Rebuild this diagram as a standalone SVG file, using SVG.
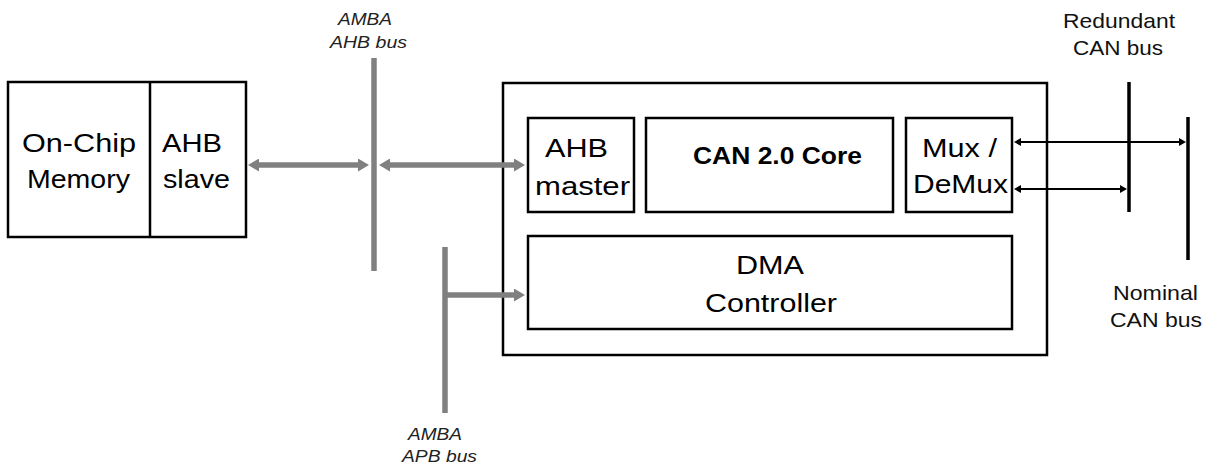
<svg xmlns="http://www.w3.org/2000/svg" width="1210" height="466" viewBox="0 0 1210 466">
<style>
  .box { fill: #ffffff; stroke: #000000; stroke-width: 2.5; }
  .t { font-family: "Liberation Sans", Arial, sans-serif; fill: #000000; }
  .big { font-size: 26px; }
  .bold { font-size: 24px; font-weight: bold; }
  .it { font-size: 17px; font-style: italic; fill: #222222; }
  .lbl { font-size: 21px; fill: #111111; }
  .gbus { stroke: #808080; stroke-width: 5.5; fill: none; }
  .garrow { stroke: #808080; stroke-width: 5.5; fill: none; marker-start: url(#ga); marker-end: url(#ga); }
  .garrow1 { stroke: #808080; stroke-width: 5.5; fill: none; marker-end: url(#ga); }
  .kbus { stroke: #000000; stroke-width: 3.5; fill: none; }
  .karrow { stroke: #000000; stroke-width: 2; fill: none; marker-start: url(#ka); marker-end: url(#ka); }
</style>
<defs>
  <marker id="ga" markerUnits="userSpaceOnUse" markerWidth="11" markerHeight="13" refX="2" refY="6.5" orient="auto-start-reverse">
    <path d="M0,0 L11,6.5 L0,13 Z" fill="#808080"/>
  </marker>
  <marker id="ka" markerUnits="userSpaceOnUse" markerWidth="7" markerHeight="8" refX="1" refY="4" orient="auto-start-reverse">
    <path d="M0,0 L7,4 L0,8 Z" fill="#000000"/>
  </marker>
</defs>
<rect width="1210" height="466" fill="#ffffff"/>

<g id="memory">
  <rect class="box" x="8" y="82" width="238" height="155"/>
  <line x1="150" y1="82" x2="150" y2="237" stroke="#000" stroke-width="2.5"/>
  <text class="t big" x="22" y="152" textLength="114" lengthAdjust="spacingAndGlyphs">On-Chip</text>
  <text class="t big" x="27" y="188" textLength="103" lengthAdjust="spacingAndGlyphs">Memory</text>
  <text class="t big" x="162" y="152" textLength="60" lengthAdjust="spacingAndGlyphs">AHB</text>
  <text class="t big" x="163" y="188" textLength="67" lengthAdjust="spacingAndGlyphs">slave</text>
</g>

<g id="can-controller">
  <rect class="box" x="503" y="83" width="544" height="272"/>
</g>
<g id="ahb-master">
  <rect class="box" x="528" y="118" width="106" height="94"/>
  <text class="t big" x="545" y="157" textLength="63" lengthAdjust="spacingAndGlyphs">AHB</text>
  <text class="t big" x="535" y="195" textLength="95" lengthAdjust="spacingAndGlyphs">master</text>
</g>
<g id="can-core">
  <rect class="box" x="646" y="118" width="247" height="94"/>
  <text class="t bold" x="693" y="164" textLength="169" lengthAdjust="spacingAndGlyphs">CAN 2.0 Core</text>
</g>
<g id="mux">
  <rect class="box" x="906" y="118" width="106" height="94"/>
  <text class="t big" x="922" y="157" textLength="75" lengthAdjust="spacingAndGlyphs">Mux /</text>
  <text class="t big" x="913" y="193" textLength="95" lengthAdjust="spacingAndGlyphs">DeMux</text>
</g>
<g id="dma">
  <rect class="box" x="528" y="236" width="484" height="93"/>
  <text class="t big" x="736" y="274" textLength="68" lengthAdjust="spacingAndGlyphs">DMA</text>
  <text class="t big" x="705" y="312" textLength="132" lengthAdjust="spacingAndGlyphs">Controller</text>
</g>

<g id="ahb-bus">
  <line class="gbus" x1="374" y1="58" x2="374" y2="271"/>
  <text class="t it" x="338" y="25" textLength="54" lengthAdjust="spacingAndGlyphs">AMBA</text>
  <text class="t it" x="330" y="48" textLength="77" lengthAdjust="spacingAndGlyphs">AHB bus</text>
</g>
<g id="apb-bus">
  <line class="gbus" x1="445" y1="247" x2="445" y2="413"/>
  <text class="t it" x="408" y="440" textLength="54" lengthAdjust="spacingAndGlyphs">AMBA</text>
  <text class="t it" x="402" y="462" textLength="75" lengthAdjust="spacingAndGlyphs">APB bus</text>
</g>
<g id="redundant-bus">
  <line class="kbus" x1="1129" y1="82" x2="1129" y2="212"/>
  <text class="t lbl" x="1063" y="28" textLength="112" lengthAdjust="spacingAndGlyphs">Redundant</text>
  <text class="t lbl" x="1073" y="55" textLength="90" lengthAdjust="spacingAndGlyphs">CAN bus</text>
</g>
<g id="nominal-bus">
  <line class="kbus" x1="1188" y1="117" x2="1188" y2="260"/>
  <text class="t lbl" x="1113" y="300" textLength="85" lengthAdjust="spacingAndGlyphs">Nominal</text>
  <text class="t lbl" x="1110" y="327" textLength="92" lengthAdjust="spacingAndGlyphs">CAN bus</text>
</g>

<g id="connectors">
  <line class="garrow" x1="257" y1="165" x2="360" y2="165"/>
  <line class="garrow" x1="388" y1="165" x2="516" y2="165"/>
  <line class="garrow1" x1="445" y1="295" x2="516" y2="295"/>
  <line class="karrow" x1="1020" y1="142" x2="1180" y2="142"/>
  <line class="karrow" x1="1020" y1="189" x2="1121" y2="189"/>
</g>
</svg>
